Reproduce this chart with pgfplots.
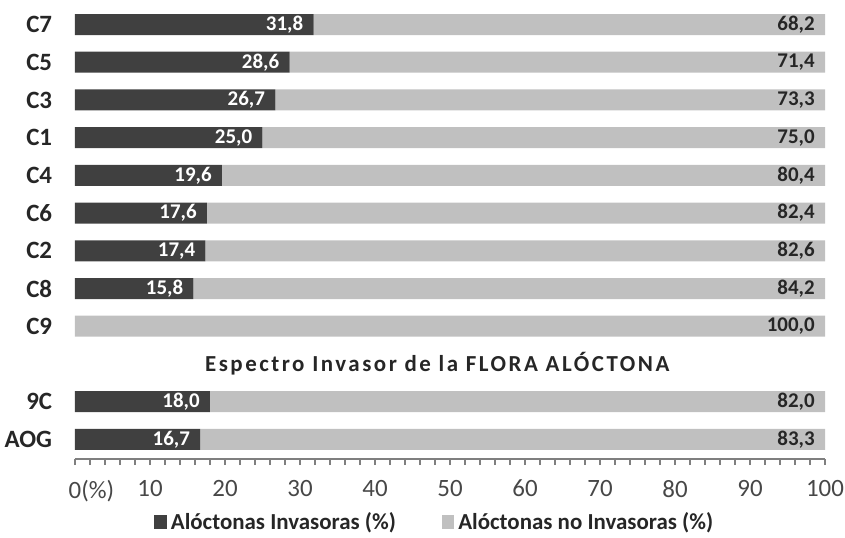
\documentclass[border=0pt]{standalone}
\usepackage{pgfplots}
\pgfplotsset{compat=1.18}
\usepackage{pgfplotstable}
\usepackage{fontspec}
\setmainfont{Carlito}
\definecolor{darkbar}{HTML}{404040}
\definecolor{lightbar}{HTML}{C0C0C0}
\definecolor{axgray}{HTML}{7F7F7F}
\definecolor{txt}{HTML}{262626}
\pgfplotstableread{
pos inv noinv tot linv lno
11 31.8 68.2 100 {31,8} {68,2}
10 28.6 71.4 100 {28,6} {71,4}
9  26.7 73.3 100 {26,7} {73,3}
8  25.0 75.0 100 {25,0} {75,0}
7  19.6 80.4 100 {19,6} {80,4}
6  17.6 82.4 100 {17,6} {82,4}
5  17.4 82.6 100 {17,4} {82,6}
4  15.8 84.2 100 {15,8} {84,2}
3  0.0 100.0 100 {} {100,0}
1  18.0 82.0 100 {18,0} {82,0}
0  16.7 83.3 100 {16,7} {83,3}
}\datatable
\pgfplotsset{
  common/.style={
    scale only axis,
    width=375bp, height=229.5bp,
    xmin=0, xmax=100,
    ymin=-0.52, ymax=11.65,
    clip=false,
  }
}
\begin{document}
\begin{tikzpicture}
\begin{axis}[
  common,
  xbar stacked,
  bar width=10.5bp,
  axis y line=none,
  axis x line*=bottom,
  x axis line style={axgray, line width=0.6bp},
  xtick={0,10,...,100},
  xticklabels={0\rlap{(\%)},10,20,30,40,50,60,70,80,90,100},
  minor x tick num=4,
  tick align=outside,
  major tick length=3bp,
  minor tick length=3bp,
  every tick/.style={axgray, line width=0.6bp},
  xticklabel style={font=\fontsize{12.5}{14}\selectfont, text=txt!85!white, yshift=-4bp},
  ytick=\empty,
  legend style={at={(0.481,-0.138)}, anchor=center, draw=none, fill=none,
    legend columns=2, font=\bfseries\fontsize{11.5}{13}\selectfont, text=txt,
    /tikz/every even column/.append style={column sep=21bp}},
  legend image code/.code={\fill[#1] (0cm,-0.11cm) rectangle (0.22cm,0.13cm);},
]
\addplot[fill=darkbar, draw=none] table[x=inv, y=pos] {\datatable};
\addplot[fill=lightbar, draw=none] table[x=noinv, y=pos] {\datatable};
\legend{Alóctonas Invasoras (\%), Alóctonas no Invasoras (\%)}
\node[font=\bfseries\fontsize{11.5}{13}\selectfont\addfontfeature{LetterSpace=11}, text=txt] at (axis cs:48.3,2) {Espectro Invasor de la FLORA ALÓCTONA};
\pgfplotsextra{
  \foreach \yy/\lab in {0/AOG,1/9C,3/C9,4/C8,5/C2,6/C6,7/C4,8/C1,9/C3,10/C5,11/C7}{
    \node[anchor=east, font=\bfseries\fontsize{12.5}{14}\selectfont, text=txt, inner sep=0pt] at (axis cs:-3,\yy) {\lab};
  }
}
\end{axis}
\begin{axis}[
  common,
  hide axis,
  point meta=explicit symbolic,
  nodes near coords={\pgfplotspointmeta},
  nodes near coords style={anchor=east, font=\bfseries\fontsize{10.5}{13}\selectfont, inner sep=0pt, xshift=-5bp},
]
\addplot[draw=none, mark=none, nodes near coords style={text=white}] table[x=inv, y=pos, meta=linv] {\datatable};
\addplot[draw=none, mark=none, nodes near coords style={text=txt}] table[x=tot, y=pos, meta=lno] {\datatable};
\end{axis}
\pgfresetboundingbox
\path[use as bounding box] (-37.5bp,-39.5bp) rectangle (385bp,229.5bp);
\end{tikzpicture}
\end{document}
